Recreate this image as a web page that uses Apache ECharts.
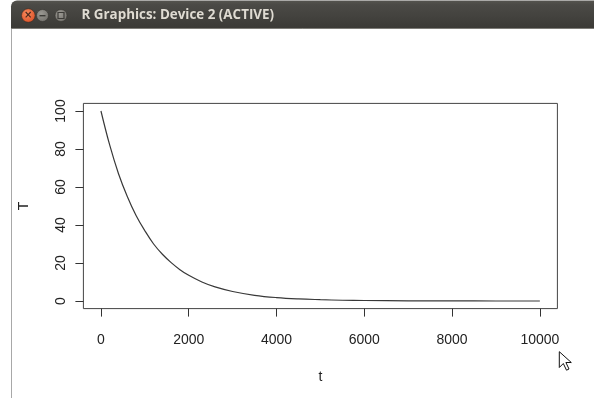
<!DOCTYPE html>
<html>
<head>
<meta charset="utf-8">
<script src="https://cdn.jsdelivr.net/npm/echarts@6/dist/echarts.min.js"></script>
<style>
html,body{margin:0;padding:0;background:#fff;}
#chart{width:594px;height:398px;}
</style>
</head>
<body>
<div id="chart"></div>
<script>
// Data
const tValues = [0,200,400,600,800,1000,1200,1400,1600,1800,2000,2300,2600,3000,3500,4000,4500,5000,5500,6000,7000,8000,9000,10000];
const TValues = [100,82,67,55,45,37,30,24.6,20.2,16.5,13.5,10,7.4,5,3,1.8,1.1,0.7,0.4,0.25,0.1,0.03,0.01,0];
const xTicks = [0,2000,4000,6000,8000,10000];
const yTicks = [0,20,40,60,80,100];
const xName = 't';
const yName = 'T';
const windowTitle = 'R Graphics: Device 2 (ACTIVE)';

const chart = echarts.init(document.getElementById('chart'), null, {renderer:'canvas'});
const font = 'Liberation Sans, Arial, sans-serif';
const series = tValues.map((t,i)=>[t, TValues[i]]);
const plain = v => String(v);

chart.setOption({
  backgroundColor:'#ffffff',
  animation:false,
  grid:{left:83.4, top:103.4, width:474, height:205.2, show:true, borderColor:'#444', borderWidth:1, backgroundColor:'transparent', containLabel:false},
  xAxis:{
    type:'value', min:-400, max:10400,
    name:xName, nameLocation:'middle', nameGap:62,
    nameTextStyle:{fontFamily:font, fontSize:14, color:'#222'},
    axisLine:{show:false, onZero:false},
    splitLine:{show:false},
    axisTick:{show:true, inside:false, length:8, lineStyle:{color:'#333'}, customValues:xTicks},
    axisLabel:{fontFamily:font, fontSize:14, color:'#222', margin:25, customValues:xTicks, formatter:plain}
  },
  yAxis:{
    type:'value', min:-4, max:104,
    name:yName, nameLocation:'middle', nameGap:52, nameRotate:90,
    nameTextStyle:{fontFamily:font, fontSize:14, color:'#222'},
    axisLine:{show:false, onZero:false},
    splitLine:{show:false},
    axisTick:{show:true, inside:false, length:8, lineStyle:{color:'#333'}, customValues:yTicks},
    axisLabel:{fontFamily:font, fontSize:14, color:'#222', margin:15, rotate:90, customValues:yTicks, formatter:plain}
  },
  series:[{
    type:'line', data:series, showSymbol:false, smooth:0.4,
    lineStyle:{color:'#383838', width:1.2}
  }],
  graphic:[
    {type:'rect', shape:{x:11,y:0.5,width:583,height:28,r:[6,0,0,0]}, style:{fill:new echarts.graphic.LinearGradient(0,0,0,1,[{offset:0,color:'#55544f'},{offset:0.15,color:'#4b4a46'},{offset:1,color:'#3b3a36'}])}, silent:true},
    {type:'line', shape:{x1:11,y1:28.5,x2:594,y2:28.5}, style:{stroke:'#7d7c77',lineWidth:1}, silent:true},
    {type:'line', shape:{x1:11.5,y1:29,x2:11.5,y2:398}, style:{stroke:'#a8a8a8',lineWidth:1}, silent:true},
    {type:'circle', shape:{cx:28.3,cy:15.5,r:6.8}, style:{fill:new echarts.graphic.RadialGradient(0.4,0.35,0.8,[{offset:0,color:'#f78a5d'},{offset:1,color:'#d9481f'}]), stroke:'#3a2a22', lineWidth:0.6}, silent:true},
    {type:'text', style:{x:28.3,y:15.8,text:'×',font:'bold 10px DejaVu Sans',fill:'#4a2a1e',align:'center',verticalAlign:'middle'}, silent:true},
    {type:'circle', shape:{cx:42.5,cy:15.5,r:6}, style:{fill:new echarts.graphic.RadialGradient(0.4,0.35,0.8,[{offset:0,color:'#9a9892'},{offset:1,color:'#6e6c67'}]), stroke:'#35342f', lineWidth:0.6}, silent:true},
    {type:'rect', shape:{x:39.5,y:15,width:6,height:1.4}, style:{fill:'#3c3b37'}, silent:true},
    {type:'circle', shape:{cx:61,cy:15.5,r:6}, style:{fill:new echarts.graphic.RadialGradient(0.4,0.35,0.8,[{offset:0,color:'#9a9892'},{offset:1,color:'#6e6c67'}]), stroke:'#35342f', lineWidth:0.6}, silent:true},
    {type:'rect', shape:{x:58,y:12.5,width:6,height:6}, style:{fill:'none', stroke:'#3c3b37', lineWidth:1.2}, silent:true},
    {type:'text', style:{x:81.5,y:15.5,text:windowTitle,font:'bold 13.4px Open Sans, DejaVu Sans, sans-serif',fill:'#dfdbd2',align:'left',verticalAlign:'middle'}, silent:true},
    {type:'polygon', shape:{points:[[559.3,351.7],[559.3,367.5],[563.3,363.5],[566.5,370.2],[569,369],[565.9,362.5],[571.3,362.5]]}, style:{fill:'#ffffff', stroke:'#111', lineWidth:1}, silent:true}
  ]
});
</script>
</body>
</html>
